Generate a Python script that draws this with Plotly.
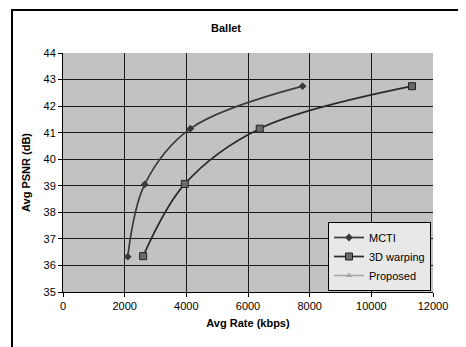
import plotly.graph_objects as go

rate_mcti = [2100, 2650, 4130, 7770]
psnr_mcti = [36.33, 39.05, 41.15, 42.75]
rate_3d = [2600, 3950, 6380, 11320]
psnr_3d = [36.35, 39.07, 41.15, 42.75]
rate_prop = [None]
psnr_prop = [None]
x_ticks = [0, 2000, 4000, 6000, 8000, 10000, 12000]
x_labels = ["0", "2000", "4000", "6000", "8000", "10000", "12000"]

# page is offset by the 8px default body margin
OFF = 8
W, H = 466 - OFF, 347 - OFF
L, R, T, B = 63 - OFF, 33, 53 - OFF, 55
pw, ph = W - L - R, H - T - B


def px(xp):
    return (xp - OFF - L) / pw


def py(yp):
    return (H - B - (yp - OFF)) / ph


fig = go.Figure()
fig.add_trace(go.Scatter(x=rate_mcti, y=psnr_mcti, name="MCTI", mode="lines+markers",
                         line=dict(color="#3a3a3a", width=1.7, shape="spline"),
                         marker=dict(symbol="diamond", size=6, color="#3a3a3a")))
fig.add_trace(go.Scatter(x=rate_3d, y=psnr_3d, name="3D warping", mode="lines+markers",
                         line=dict(color="#2a2a2a", width=1.7, shape="spline"),
                         marker=dict(symbol="square", size=7, color="#6a6a6a",
                                     line=dict(color="#202020", width=1))))
fig.add_trace(go.Scatter(x=rate_prop, y=psnr_prop, name="Proposed", mode="lines+markers",
                         line=dict(color="#a8a8a8", width=1.5),
                         marker=dict(symbol="triangle-up", size=6, color="#a8a8a8")))

fig.add_shape(type="rect", xref="paper", yref="paper",
              x0=px(12), x1=px(464), y0=py(348), y1=py(10),
              line=dict(color="black", width=2), layer="below")

fig.update_layout(
    width=W, height=H,
    margin=dict(l=L, r=R, t=T, b=B),
    paper_bgcolor="white",
    plot_bgcolor="#c2c2c2",
    font=dict(family="Liberation Sans, Arial", size=11, color="black"),
    title=dict(text="<b>Ballet</b>", x=px(226), xref="paper", xanchor="center",
               y=1 - (28 - OFF) / H, yanchor="middle", font=dict(size=11)),
    showlegend=True,
    legend=dict(x=px(328), y=py(222), xanchor="left", yanchor="top",
                bgcolor="#e8e8e8", bordercolor="black", borderwidth=1,
                font=dict(size=11), tracegroupgap=0, itemwidth=30),
)
fig.update_xaxes(range=[0, 12000], tickvals=x_ticks, ticktext=x_labels,
                 showgrid=True, gridcolor="#1a1a1a", gridwidth=1, zeroline=False,
                 showline=True, linecolor="black", linewidth=1,
                 ticks="outside", ticklen=4, tickcolor="black",
                 title=dict(text="<b>Avg Rate (kbps)</b>", font=dict(size=11), standoff=8))
fig.update_yaxes(range=[35, 44], dtick=1,
                 showgrid=True, gridcolor="#1a1a1a", gridwidth=1, zeroline=False,
                 showline=True, linecolor="black", linewidth=1,
                 ticks="outside", ticklen=4, tickcolor="black",
                 title=dict(text="<b>Avg PSNR (dB)</b>", font=dict(size=11), standoff=10))

fig.write_html("out.html")
